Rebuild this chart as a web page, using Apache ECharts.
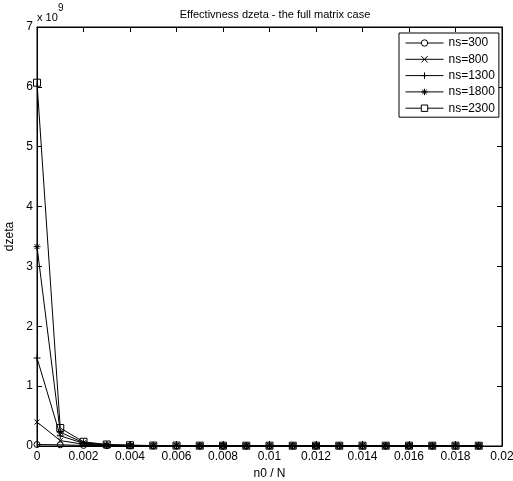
<!DOCTYPE html>
<html><head><meta charset="utf-8">
<script src="https://cdn.jsdelivr.net/npm/echarts@6/dist/echarts.min.js"></script>
<style>html,body{margin:0;padding:0;background:#fff}#c{width:513px;height:481px}</style>
</head><body><div id="c"></div>
<script>
const xs = [0,0.001,0.002,0.003,0.004,0.005,0.006,0.007,0.008,0.009,0.010,0.011,0.012,0.013,0.014,0.015,0.016,0.017,0.018,0.019];
const ns300  = [0.025,0.02,0.01,0.005,0.003,0.002,0.0015,0.001,0.001,0.001,0.001,0.001,0.001,0.001,0.001,0.001,0.001,0.001,0.001,0.001];
const ns800  = [0.40,0.09,0.03,0.012,0.007,0.005,0.004,0.003,0.003,0.002,0.002,0.002,0.002,0.002,0.002,0.002,0.002,0.002,0.002,0.002];
const ns1300 = [1.47,0.17,0.045,0.017,0.009,0.006,0.005,0.004,0.003,0.003,0.003,0.003,0.003,0.003,0.003,0.003,0.003,0.003,0.003,0.003];
const ns1800 = [3.33,0.23,0.055,0.02,0.011,0.007,0.006,0.005,0.004,0.004,0.004,0.004,0.004,0.004,0.004,0.004,0.004,0.004,0.004,0.004];
const ns2300 = [6.07,0.30,0.07,0.025,0.013,0.008,0.007,0.006,0.005,0.005,0.005,0.005,0.005,0.005,0.005,0.005,0.005,0.005,0.005,0.005];
const seriesNames = ['ns=300','ns=800','ns=1300','ns=1800','ns=2300'];
const SCALE = 1e9;

const FONT = 'Liberation Sans, Arial, sans-serif';
const symX = 'path://M0,0L10,10M10,0L0,10';
const symPlus = 'path://M5,0L5,10M0,5L10,5';
const symStar = 'path://M5,0L5,10M0,5L10,5M1.5,1.5L8.5,8.5M8.5,1.5L1.5,8.5';
const symbols = [
  {s:'circle', size:6},
  {s:symX, size:5},
  {s:symPlus, size:7},
  {s:symStar, size:7},
  {s:'rect', size:7}
];
const allData = [ns300, ns800, ns1300, ns1800, ns2300];

const series = allData.map((arr,i)=>({
  name: seriesNames[i],
  type:'line',
  data: arr.map((v,j)=>[xs[j], v*SCALE]),
  symbol: symbols[i].s,
  symbolSize: symbols[i].size,
  showAllSymbol: true,
  lineStyle:{color:'#000', width:1},
  itemStyle:{color: 'rgba(255,255,255,0)', borderColor:'#000', borderWidth:1},
  emphasis:{disabled:true},
  animation:false,
  z: 2+i
}));

const axisCommon = {
  axisLine:{show:true, onZero:false, lineStyle:{color:'#000', width:1}},
  axisTick:{show:true, inside:true, length:5, lineStyle:{color:'#000'}},
  splitLine:{show:false}
};

const chart = echarts.init(document.getElementById('c'), null, {renderer:'canvas'});
chart.setOption({
  animation:false,
  backgroundColor:'#fff',
  title:{text:'Effectivness dzeta - the full matrix case', left:270, textAlign:'center', top:4,
    textStyle:{fontFamily:FONT, fontSize:11, fontWeight:'normal', color:'#000'}},
  grid:{left:37, right:11, top:27, bottom:35, containLabel:false, outerBoundsMode:'none',
    show:true, borderColor:'#000', borderWidth:1, backgroundColor:'#fff'},
  legend:{
    orient:'vertical', left:399, top:33, itemWidth:38, itemHeight:8, itemGap:4.3,
    backgroundColor:'#fff', borderColor:'#000', borderWidth:1, padding:[4,4,3,6],
    textStyle:{fontFamily:FONT, fontSize:12, color:'#000'},
    itemStyle:{color:'#fff', borderColor:'#000', borderWidth:1},
    lineStyle:{color:'#000', width:1},
    data: seriesNames
  },
  xAxis:[Object.assign({
    type:'value', min:0, max:0.02, interval:0.002,
    name:'n0 / N', nameLocation:'middle', nameGap:19,
    nameTextStyle:{fontFamily:FONT, fontSize:12, color:'#000'},
    axisLabel:{fontFamily:FONT, fontSize:12, color:'#000', margin:5}
  }, axisCommon),Object.assign({
    type:'value', position:'top', min:0, max:0.02, interval:0.002,
    axisLabel:{show:false}
  }, axisCommon)],
  yAxis:[Object.assign({
    type:'value', min:0, max:7*SCALE, interval:SCALE,
    name:'dzeta', nameLocation:'middle', nameGap:17,
    nameTextStyle:{fontFamily:FONT, fontSize:12, color:'#000'},
    axisLabel:{fontFamily:FONT, fontSize:12, color:'#000', margin:4, formatter:v=>String(Math.round(v/SCALE))}
  }, axisCommon),Object.assign({
    type:'value', position:'right', min:0, max:7*SCALE, interval:SCALE,
    axisLabel:{show:false}
  }, axisCommon)],
  graphic:[{
    type:'text', left:37, top:12,
    style:{text:'x 10', font:'11px '+FONT, fill:'#000'}
  },{
    type:'text', left:58, top:3,
    style:{text:'9', font:'10px '+FONT, fill:'#000'}
  }],
  series: series
});
</script></body></html>
